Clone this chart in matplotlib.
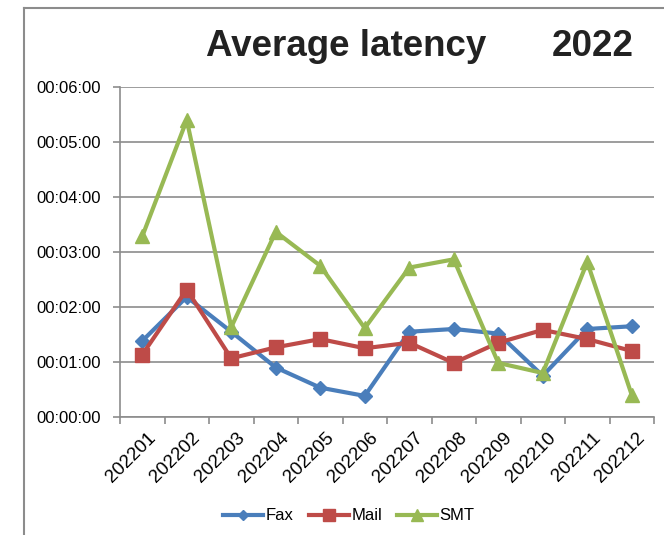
import numpy as np
import matplotlib
matplotlib.use("Agg")
import matplotlib.pyplot as plt
import matplotlib.transforms as mtransforms
from matplotlib.ticker import FuncFormatter, MultipleLocator
from matplotlib.lines import Line2D

plt.rcParams['font.family'] = ['Liberation Sans', 'DejaVu Sans']

# months and average latency in seconds
months = ['202201', '202202', '202203', '202204', '202205', '202206',
          '202207', '202208', '202209', '202210', '202211', '202212']
fax = [83, 131, 93, 54, 32, 23, 93, 96, 91, 45, 96, 99]
mail = [68, 139, 64, 76, 85, 75, 81, 59, 81, 95, 85, 72]
smt = [197, 324, 98, 202, 165, 97, 163, 172, 59, 48, 169, 24]

fig = plt.figure(figsize=(6.64, 5.35), dpi=100)
ax = fig.add_axes([120 / 664, 1 - 417 / 535, 534 / 664, 330 / 535])

x = np.arange(len(months))
ax.plot(x, fax, color='#4A7EBB', lw=3, marker='D', ms=7, label='Fax')
ax.plot(x, mail, color='#BE4B48', lw=3, marker='s', ms=10, label='Mail')
ax.plot(x, smt, color='#98B954', lw=3, marker='^', ms=10, label='SMT')

ax.set_xlim(-0.5, len(months) - 0.5)
ax.set_ylim(0, 360)


def hms(v, pos):
    v = int(round(v))
    return '%02d:%02d:%02d' % (v // 3600, (v // 60) % 60, v % 60)


ax.yaxis.set_major_locator(MultipleLocator(60))
ax.yaxis.set_major_formatter(FuncFormatter(hms))
ax.yaxis.grid(True, color='#8c8c8c', lw=1.2)
ax.set_axisbelow(True)

ax.set_xticks(np.arange(-0.5, len(months), 1))
ax.set_xticklabels([])
ax.set_xticks(x, minor=True)
ax.set_xticklabels(months, minor=True, rotation=45, ha='right',
                   rotation_mode='anchor', fontsize=13.5)
ax.tick_params(axis='x', which='minor', length=0, pad=9)
ax.tick_params(axis='x', which='major', length=5, color='#8c8c8c', width=1.2)
ax.tick_params(axis='y', length=5, color='#8c8c8c', width=1.2, labelsize=12,
               pad=9)
shift = mtransforms.ScaledTranslation(5 / 100, 0, fig.dpi_scale_trans)
for lab in ax.get_xticklabels(minor=True):
    lab.set_transform(lab.get_transform() + shift)

for s in ['top', 'right']:
    ax.spines[s].set_visible(False)
for s in ['left', 'bottom']:
    ax.spines[s].set_color('#8c8c8c')
    ax.spines[s].set_linewidth(1.2)

fig.text(346 / 664, 1 - 46 / 535, 'Average latency', ha='center', va='center',
         fontsize=26.5, fontweight='bold', color='#222222')
fig.text(593 / 664, 1 - 46 / 535, '2022', ha='center', va='center',
         fontsize=26.5, fontweight='bold', color='#222222')

# outer chart frame
fig.add_artist(Line2D([24 / 664, 1], [1 - 8 / 535, 1 - 8 / 535],
                      transform=fig.transFigure, color='#8c8c8c', lw=1.5))
fig.add_artist(Line2D([24 / 664, 24 / 664], [0, 1 - 8 / 535],
                      transform=fig.transFigure, color='#8c8c8c', lw=1.5))

fig.legend(loc='center', bbox_to_anchor=(349 / 664, 1 - 516 / 535), ncol=3,
           frameon=False, fontsize=12, handlelength=2.4, handletextpad=0.15,
           columnspacing=0.9, markerscale=0.8)

fig.savefig('out.png', dpi=100)
